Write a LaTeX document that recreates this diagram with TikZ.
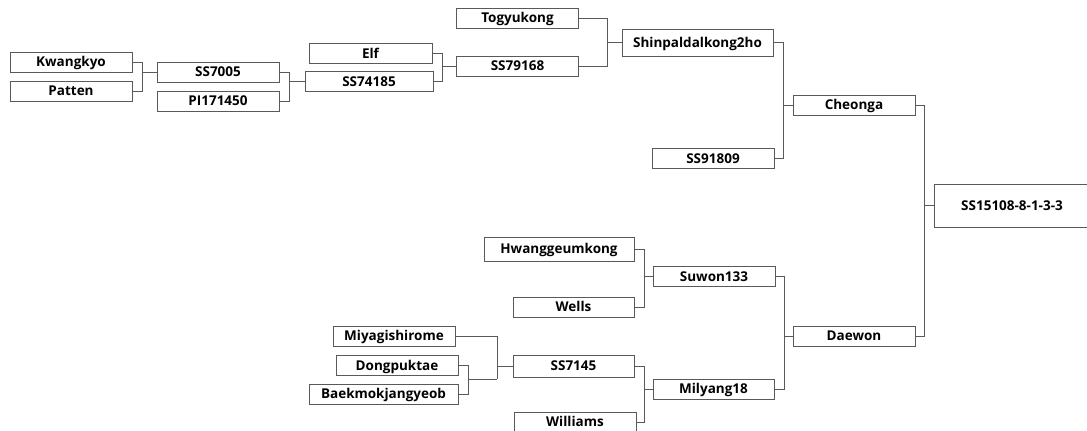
\documentclass[tikz,border=0pt]{standalone}
\usepackage{fontspec}
\setmainfont{Open Sans}
\begin{document}
\begin{tikzpicture}[x=1pt, y=-1pt,
line width=0.8pt,
cross/.style = {draw=black!65},
cultivar/.style = {rectangle,
	draw=black!65,
	inner sep=0pt,
	text height=12pt,
	text depth=2.4pt,
	minimum width=122pt,
	minimum height=20pt,
	font=\bfseries\fontsize{13.5}{15}\selectfont}]

\useasboundingbox (0,0) rectangle (1087,431);

\node (kwangkyo) at (71,62) [cultivar] {Kwangkyo};
\node (patten) at (71,91) [cultivar] {Patten};
\node (ss7005) at (218,72) [cultivar] {SS7005};
\node (pi171450) at (218,101) [cultivar] {PI171450};
\node (elf) at (370.5,53.5) [cultivar, minimum width=123pt] {Elf};
\node (ss74185) at (369,81.5) [cultivar, minimum width=128pt] {SS74185};
\node (togyukong) at (517.5,18) [cultivar] {Togyukong};
\node (ss79168) at (517.5,66) [cultivar] {SS79168};
\node (shinpal) at (697.5,42.5) [cultivar, minimum width=151pt, minimum height=27pt] {Shinpaldalkong2ho};
\node (ss91809) at (713,158.5) [cultivar] {SS91809};
\node (cheonga) at (854,105) [cultivar] {Cheonga};
\node (ss15108) at (1012,205.5) [cultivar, minimum width=156pt, minimum height=43pt] {SS15108-8-1-3-3};

\node (hwanggeum) at (559,249) [cultivar, minimum width=150pt, minimum height=24pt] {Hwanggeumkong};
\node (wells) at (573.5,307) [cultivar, minimum width=121pt] {Wells};
\node (suwon133) at (714,276.5) [cultivar] {Suwon133};
\node (daewon) at (854,336) [cultivar] {Daewon};
\node (miyagi) at (394,336) [cultivar] {Miyagishirome};
\node (dongpuk) at (397,365.5) [cultivar] {Dongpuktae};
\node (baekmok) at (383.5,394) [cultivar, minimum width=149pt] {Baekmokjangyeob};
\node (ss7145) at (573.5,366) [cultivar, minimum width=121pt, minimum height=22pt] {SS7145};
\node (williams) at (575,422) [cultivar] {Williams};
\node (milyang18) at (713.5,389) [cultivar, minimum width=121pt] {Milyang18};
\coordinate (dongbaek) at (468,379);

% crosses
\draw[cross] (kwangkyo.east) -- (142,0 |- kwangkyo.east) |- (patten.east);
\draw[cross] (ss7005.west) -- (142,0 |- ss7005.west);
\draw[cross] (ss7005.east) -- (289,0 |- ss7005.east) |- (pi171450.east);
\draw[cross] (ss74185.west) -- (289,0 |- ss74185.west);
\draw[cross] (elf.east) -- (442,0 |- elf.east) |- (ss74185.east);
\draw[cross] (ss79168.west) -- (442,0 |- ss79168.west);
\draw[cross] (togyukong.east) -- (607,0 |- togyukong.east) |- (ss79168.east);
\draw[cross] (shinpal.west) -- (607,0 |- shinpal.west);
\draw[cross] (shinpal.east) -- (783,0 |- shinpal.east) |- (ss91809.east);
\draw[cross] (cheonga.west) -- (783,0 |- cheonga.west);
\draw[cross] (cheonga.east) -- (924,0 |- cheonga.east) |- (daewon.east);
\draw[cross] (ss15108.west) -- (924,0 |- ss15108.west);

\draw[cross] (hwanggeum.east) -- (644,0 |- hwanggeum.east) |- (wells.east);
\draw[cross] (suwon133.west) -- (644,0 |- suwon133.west);
\draw[cross] (dongpuk.east) -- (dongbaek |- dongpuk.east) |- (baekmok.east);
\draw[cross] (dongbaek) -- (497,0 |- dongbaek);
\draw[cross] (miyagi.east) -- (497,0 |- miyagi.east) -- (497,0 |- dongbaek);
\draw[cross] (ss7145.west) -- (497,0 |- ss7145.west);
\draw[cross] (ss7145.east) -- (644,0 |- ss7145.east) |- (williams.east);
\draw[cross] (milyang18.west) -- (644,0 |- milyang18.west);
\draw[cross] (suwon133.east) -- (784,0 |- suwon133.east) |- (milyang18.east);
\draw[cross] (daewon.west) -- (784,0 |- daewon.west);
\end{tikzpicture}
\end{document}
